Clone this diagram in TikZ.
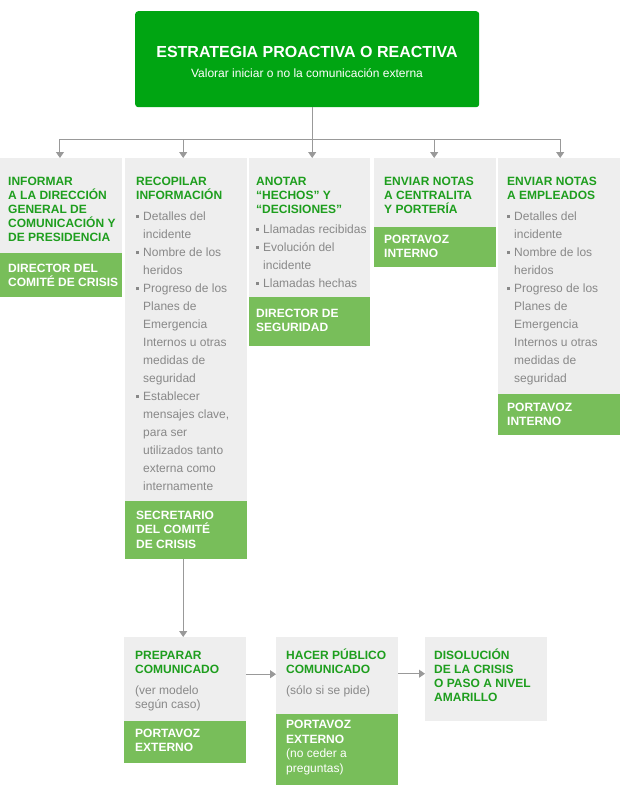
\documentclass[tikz,border=0pt]{standalone}
\usepackage{fontspec}
\setmainfont{Liberation Sans}
\usepackage{tikz}
\usetikzlibrary{arrows.meta}
\definecolor{verdefuerte}{HTML}{00A512}
\definecolor{verdeclaro}{HTML}{78BE5A}
\definecolor{verdetexto}{HTML}{1E9E1E}
\definecolor{grisfondo}{HTML}{EEEEEE}
\definecolor{gristexto}{HTML}{888888}
\definecolor{grislinea}{HTML}{999999}
\newcommand{\vin}{\makebox[7pt][l]{\rule[2pt]{3pt}{3pt}}} % bullet
\newcommand{\sig}{\hspace*{7pt}} % hanging indent

\begin{document}
\begin{tikzpicture}[x=1pt,y=-1pt,
    caja/.style={fill=grisfondo, anchor=north west, inner sep=0pt, minimum width=122pt},
    banda/.style={fill=verdeclaro, anchor=north west, inner sep=0pt, minimum width=122pt},
    cab/.style={anchor=base west, align=left, inner sep=0pt, text=verdetexto, font=\bfseries\fontsize{12}{14}\selectfont},
    rol/.style={anchor=base west, align=left, inner sep=0pt, text=white, font=\bfseries\fontsize{12}{14.5}\selectfont},
    lista/.style={anchor=base west, align=left, inner sep=0pt, text=gristexto, font=\fontsize{12}{18}\selectfont},
    nota/.style={anchor=base west, align=left, inner sep=0pt, text=gristexto, font=\fontsize{12}{14}\selectfont},
    linea/.style={draw=grislinea, line width=1pt},
    flecha/.style={linea, -{Triangle[width=8pt,length=6pt]}}]
\useasboundingbox (0,0) rectangle (620,795);

% top box
\node[fill=verdefuerte, rounded corners=3pt, anchor=north west, inner sep=0pt,
      minimum width=344pt, minimum height=96pt] (estrategia) at (135,11) {};
\node[anchor=base, text=white, font=\bfseries\fontsize{16}{19}\selectfont] (titulo) at (307,57) {ESTRATEGIA PROACTIVA O REACTIVA};
\node[anchor=base, text=white, font=\fontsize{12}{14}\selectfont] (subtitulo) at (307,77) {Valorar iniciar o no la comunicación externa};

% first row
\node[caja, minimum width=121.5pt, minimum height=95pt] (informar) at (0,158) {};
\node[banda, minimum width=121.5pt, minimum height=44pt] (dirComite) at (0,253) {};
\node[caja, minimum height=343pt] (recopilar) at (125,158) {};
\node[banda, minimum height=58pt] (secretario) at (125,501) {};
\node[caja, minimum width=121pt, minimum height=139pt] (anotar) at (249,158) {};
\node[banda, minimum width=121pt, minimum height=49pt] (dirSeguridad) at (249,297) {};
\node[caja, minimum height=69pt] (centralita) at (374,158) {};
\node[banda, minimum height=40pt] (portavozA) at (374,227) {};
\node[caja, minimum height=236pt] (empleados) at (498,158) {};
\node[banda, minimum height=41pt] (portavozB) at (498,394) {};

% second row
\node[caja, minimum height=84pt] (preparar) at (124,637) {};
\node[banda, minimum height=42pt] (portavozC) at (124,721) {};
\node[caja, minimum height=77pt] (hacer) at (276,637) {};
\node[banda, minimum height=71pt] (portavozD) at (276,714) {};
\node[caja, minimum height=84pt] (disolucion) at (425,637) {};

% connectors
\coordinate (bus) at (312,139);
\draw[linea] ([xshift=5pt]estrategia.south) -- ([xshift=5pt]estrategia.south |- bus);
\draw[linea] ([xshift=-1pt]informar.north |- bus) -- ([xshift=1pt]empleados.north |- bus);
\foreach \n/\d in {informar/-1, recopilar/-3, anotar/2.5, centralita/-1, empleados/1}
  \draw[flecha] ([xshift=\d pt]\n.north |- bus) -- ([xshift=\d pt]\n.north);
\draw[flecha] ([xshift=-3pt]secretario.south) -- ([xshift=-3pt]secretario.south |- preparar.north);
\draw[flecha] ([yshift=5pt]preparar.east) -- ([yshift=5pt]preparar.east -| hacer.west);
\draw[flecha] ([yshift=2pt]hacer.east) -- ([yshift=2pt]hacer.east -| disolucion.west);

% texts (anchored at the baseline of the last line)
\node[cab] at (8,241) {INFORMAR\\A LA DIRECCIÓN\\GENERAL DE\\COMUNICACIÓN Y\\DE PRESIDENCIA};
\node[rol] at (8,286.5) {DIRECTOR DEL\\COMITÉ DE CRISIS};

\node[cab] at (136,199) {RECOPILAR\\INFORMACIÓN};
\node[lista] at (136,490) {\vin Detalles del\\ \sig incidente\\ \vin Nombre de los\\ \sig heridos\\
  \vin Progreso de los\\ \sig Planes de\\ \sig Emergencia\\ \sig Internos u otras\\ \sig medidas de\\ \sig seguridad\\
  \vin Establecer\\ \sig mensajes clave,\\ \sig para ser\\ \sig utilizados tanto\\ \sig externa como\\ \sig internamente};
\node[rol] at (136,548) {SECRETARIO\\DEL COMITÉ\\DE CRISIS};

\node[cab] at (256,213) {ANOTAR\\“HECHOS” Y\\“DECISIONES”};
\node[lista] at (256,287) {\vin Llamadas recibidas\\ \vin Evolución del\\ \sig incidente\\ \vin Llamadas hechas};
\node[rol] at (256,331.5) {DIRECTOR DE\\SEGURIDAD};

\node[cab] at (384,213) {ENVIAR NOTAS\\A CENTRALITA\\Y PORTERÍA};
\node[rol] at (384,257.5) {PORTAVOZ\\INTERNO};

\node[cab] at (507,199) {ENVIAR NOTAS\\A EMPLEADOS};
\node[lista] at (507,382) {\vin Detalles del\\ \sig incidente\\ \vin Nombre de los\\ \sig heridos\\
  \vin Progreso de los\\ \sig Planes de\\ \sig Emergencia\\ \sig Internos u otras\\ \sig medidas de\\ \sig seguridad};
\node[rol] at (507,425.5) {PORTAVOZ\\INTERNO};

\node[cab] at (135,673) {PREPARAR\\COMUNICADO};
\node[nota] at (135,708) {(ver modelo\\según caso)};
\node[rol] at (135,751.5) {PORTAVOZ\\EXTERNO};

\node[cab] at (286,673) {HACER PÚBLICO\\COMUNICADO};
\node[nota] at (286,694) {(sólo si se pide)};
\node[rol] at (286,772) {PORTAVOZ\\EXTERNO\\{\mdseries (no ceder a}\\{\mdseries preguntas)}};

\node[cab] at (434,701) {DISOLUCIÓN\\DE LA CRISIS\\O PASO A NIVEL\\AMARILLO};
\end{tikzpicture}
\end{document}
